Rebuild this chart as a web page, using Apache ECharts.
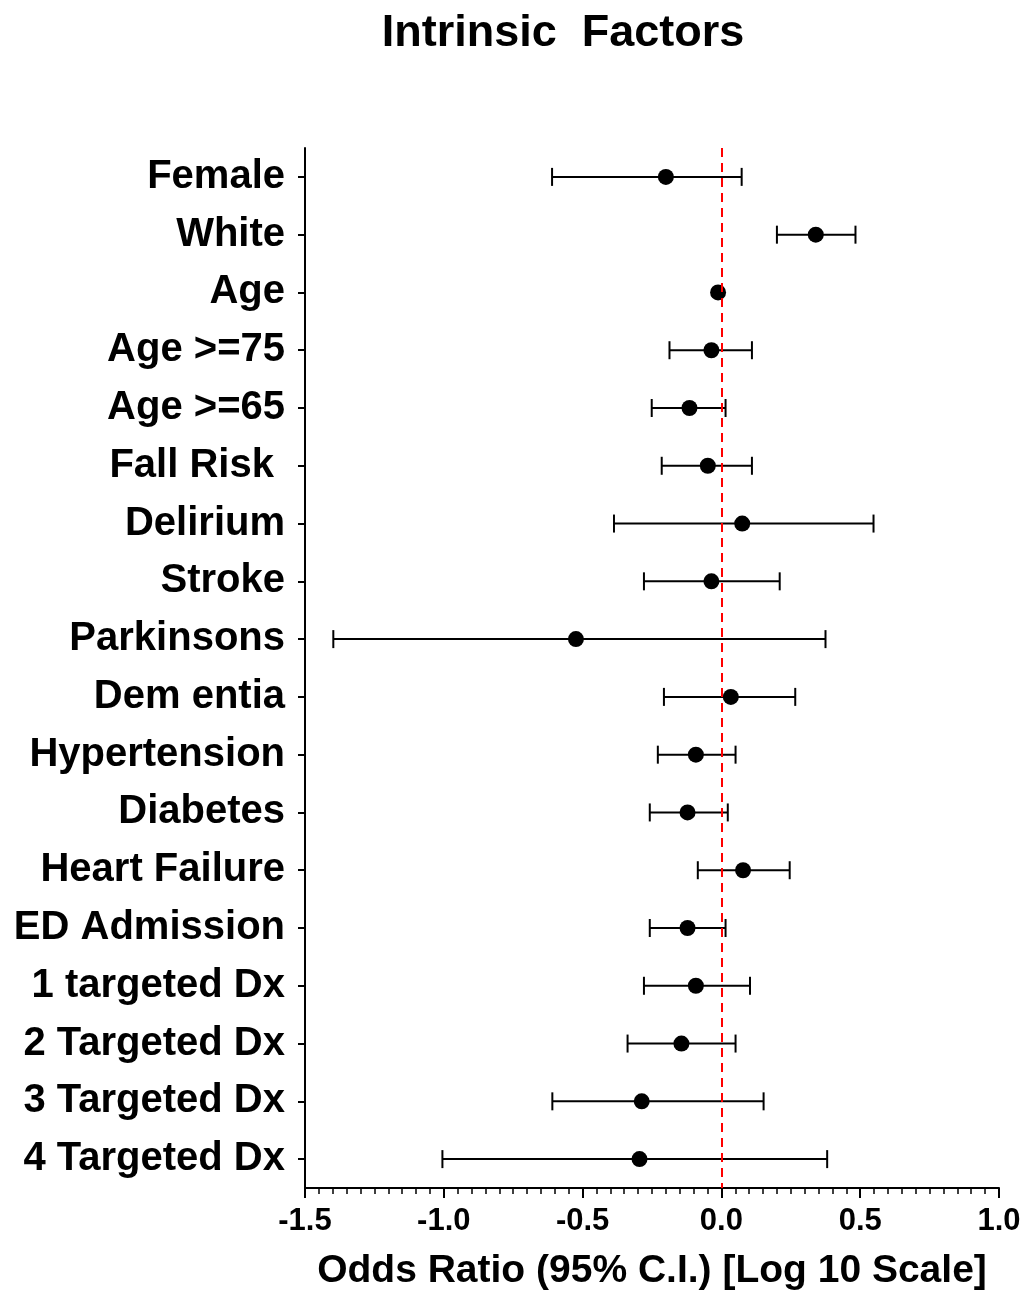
<!DOCTYPE html>
<html>
<head>
<meta charset="utf-8">
<script src="https://cdn.jsdelivr.net/npm/echarts@6/dist/echarts.min.js"></script>
<style>
html,body{margin:0;padding:0;background:#fff;}
#chart{width:1024px;height:1296px;}
</style>
</head>
<body>
<div id="chart"></div>
<script>
var categories = ["Female","White","Age","Age >=75","Age >=65","Fall Risk ","Delirium","Stroke","Parkinsons","Dem entia","Hypertension","Diabetes","Heart Failure","ED Admission","1 targeted Dx","2 Targeted Dx","3 Targeted Dx","4 Targeted Dx"];
var estimate = [-0.20, 0.34, -0.012, -0.036, -0.115, -0.049, 0.075, -0.036, -0.524, 0.034, -0.092, -0.122, 0.078, -0.122, -0.092, -0.144, -0.287, -0.295];
var lower    = [-0.61, 0.20, -0.02, -0.187, -0.251, -0.215, -0.387, -0.279, -1.398, -0.207, -0.229, -0.258, -0.085, -0.258, -0.279, -0.338, -0.609, -1.005];
var upper    = [0.073, 0.483, -0.005, 0.110, 0.015, 0.110, 0.548, 0.210, 0.375, 0.266, 0.051, 0.023, 0.246, 0.015, 0.103, 0.051, 0.152, 0.381];
var xTicks = { min: -1.5, max: 1.0, interval: 0.5 };
var titleText = "Intrinsic  Factors";
var xName = "Odds Ratio (95% C.I.) [Log 10 Scale]";

var FONT = "Arial, 'Liberation Sans', sans-serif";
var chart = echarts.init(document.getElementById('chart'));
var MARK = 16;

var ciData = categories.map(function (c, i) { return [i, lower[i], upper[i], estimate[i]]; });
var ptData = categories.map(function (c, i) { return [estimate[i], c]; });

chart.setOption({
  animation: false,
  backgroundColor: '#fff',
  graphic: [{
    type: 'text', x: 563, y: 34,
    style: { text: titleText, align: 'center', verticalAlign: 'middle',
      font: 'bold 45px ' + FONT, fill: '#000' }
  }],
  grid: { left: 305, right: 25, top: 148, bottom: 95, containLabel: false },
  xAxis: {
    type: 'value', min: xTicks.min, max: xTicks.max, interval: xTicks.interval,
    name: xName, nameLocation: 'middle', nameGap: 64,
    nameTextStyle: { fontSize: 39, fontWeight: 'bold', color: '#000', fontFamily: FONT },
    axisLine: { show: true, onZero: false, lineStyle: { color: '#000', width: 2 } },
    axisTick: { show: true, length: 10, lineStyle: { color: '#000', width: 2 } },
    minorTick: { show: true, splitNumber: 10, length: 6, lineStyle: { color: '#000', width: 1.5 } },
    splitLine: { show: false },
    axisLabel: { fontSize: 31, fontWeight: 'bold', color: '#000', fontFamily: FONT, margin: 18,
      formatter: function (v) { return v.toFixed(1); } }
  },
  yAxis: {
    type: 'category', data: categories, inverse: true,
    axisLine: { show: true, onZero: false, lineStyle: { color: '#000', width: 2 } },
    axisTick: { show: true, alignWithLabel: true, length: 7, lineStyle: { color: '#000', width: 2 } },
    axisLabel: { fontSize: 40, fontWeight: 'bold', color: '#000', fontFamily: FONT, margin: 20 },
    splitLine: { show: false }
  },
  series: [
    {
      type: 'custom',
      data: ciData,
      encode: { x: [1, 2, 3], y: 0 },
      z: 2,
      renderItem: function (params, api) {
        var idx = api.value(0);
        var p1 = api.coord([api.value(1), idx]);
        var p2 = api.coord([api.value(2), idx]);
        var pe = api.coord([api.value(3), idx]);
        var h = 9;
        var st = { stroke: '#000', lineWidth: 2 };
        var children = [{ type: 'line', shape: { x1: p1[0], y1: p1[1], x2: p2[0], y2: p2[1] }, style: st }];
        if (pe[0] - p1[0] > MARK / 2) children.push({ type: 'line', shape: { x1: p1[0], y1: p1[1] - h, x2: p1[0], y2: p1[1] + h }, style: st });
        if (p2[0] - pe[0] > MARK / 2) children.push({ type: 'line', shape: { x1: p2[0], y1: p2[1] - h, x2: p2[0], y2: p2[1] + h }, style: st });
        return { type: 'group', children: children };
      }
    },
    {
      type: 'scatter',
      data: ptData,
      symbol: 'circle',
      symbolSize: MARK,
      itemStyle: { color: '#000', opacity: 1 },
      z: 4,
      markLine: {
        silent: true, symbol: 'none', label: { show: false },
        lineStyle: { color: '#ff0000', type: [9, 6], width: 2, opacity: 1 },
        data: [{ xAxis: 0 }]
      }
    }
  ]
});
</script>
</body>
</html>
